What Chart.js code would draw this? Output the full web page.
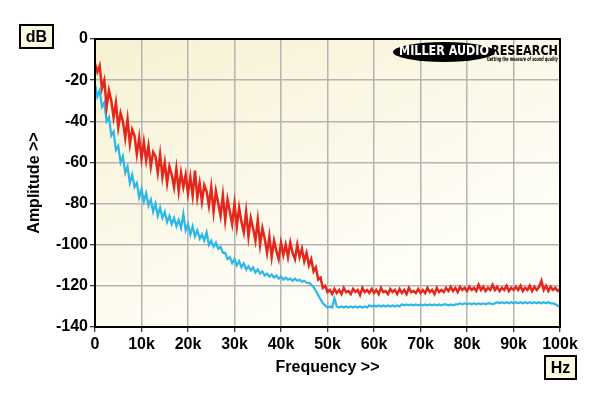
<!doctype html>
<html>

<head>
    <title>Amplitude vs Frequency</title>
    <script src="https://cdn.jsdelivr.net/npm/chart.js"></script>
    <style>
        body { margin: 0; background: #ffffff; }
    </style>
</head>

<body>

    <canvas id="spectrum" width="600" height="396"></canvas>

    <script>
        // sampling grid of the trace, Hz
        var freqStep = 500;

        // tick labels
        var xTicks = [0, 10000, 20000, 30000, 40000, 50000, 60000, 70000, 80000, 90000, 100000];
        var yTicks = [0, -20, -40, -60, -80, -100, -120, -140];

        // red trace, dB, one value every 0.5kHz from 0 to 100kHz
        var redTrace = [
            -12, -16, -13, -24, -20, -33, -25, -30, -38, -31, -43, -36, -40, -48, -39, -51, -44, -47, -56, -48, -58,
            -50, -59, -52, -62, -55, -57, -65, -56, -67, -60, -70, -62, -66, -72, -63, -74, -65, -72, -66, -75,
            -67, -76, -64, -77, -70, -79, -71, -74, -81, -72, -84, -74, -80, -86, -76, -88, -78, -84, -90, -80,
            -91, -82, -89, -94, -84, -96, -87, -92, -98, -88, -100, -92, -97, -104, -96, -106, -98, -103, -107, -99,
            -105, -100, -106, -99, -104, -107, -100, -106, -102, -108, -104, -110, -107, -113, -111, -117, -116, -121, -120, -123,
            -122, -124, -121.5, -123.5, -122, -124, -121, -123, -122.5, -124, -121.5, -123, -122, -124.5, -121, -123, -122, -123.5, -121.5, -123.5,
            -122, -124, -121, -123, -122.5, -124, -121.5, -123, -122, -124, -121.5, -123.5, -122, -124, -121, -123, -122.5, -123.5, -121.5, -123.5,
            -122, -123.5, -121, -123, -122, -124, -121, -123, -122, -123, -121, -122.5, -120.5, -122.5, -121, -123, -120.5, -122, -121, -122.5,
            -120.5, -122, -121, -122.5, -119.5, -122, -120.5, -122.5, -121, -122, -119.5, -122, -120.5, -122.5, -121, -122, -120, -122.5, -121, -122,
            -120.5, -122, -120, -122.5, -121, -122, -120, -122.5, -120.5, -122, -120.5, -117.5, -122, -120, -122.5, -120.5, -122, -121, -122.5, -121.5
        ];

        // blue trace, dB, same grid
        var blueTrace = [
            -22, -28, -25, -33, -31, -40, -38, -47, -45, -54, -52, -60, -57, -65, -62, -70, -66, -72, -70, -77, -73,
            -79, -75, -81, -78, -84, -80, -86, -82, -87, -84, -89, -86, -90, -87, -91, -88, -92, -85, -93, -90,
            -95, -91, -96, -93, -97, -95, -98, -94, -100, -98, -101, -99, -102, -101, -104, -104, -107, -106, -109, -107,
            -110, -108, -111, -109, -112, -110.5, -112.5, -111, -113.5, -112, -114, -113, -115, -114, -115.5, -114.5, -116, -115, -116.5, -115.5,
            -117, -116, -117, -116.5, -117.5, -116.5, -117.5, -117, -118, -117.5, -118.5, -118.5, -119.5, -120.5, -122.5, -124.5, -126.5, -128.5, -129.5, -130.5,
            -130, -130.5, -126, -130, -130.5, -130, -130.5, -130, -130.5, -130, -130.5, -130, -130.5, -130, -130.5, -130, -130.5, -129.5, -130, -129.5,
            -130, -129.5, -130, -129.5, -130, -129.5, -130, -129.5, -130, -129.5, -130, -129, -129.5, -129, -129.5, -129, -129.5, -129, -129.5, -129,
            -129.5, -129, -129.5, -129, -129.5, -129, -129.5, -129, -129.5, -129, -129, -129.5, -129, -129.5, -129, -129, -128.5, -129, -128.5, -129,
            -128.5, -129, -128.5, -129, -128.5, -129, -128.5, -129, -128.5, -128.5, -129, -128.5, -128, -128.5, -128, -128.5, -128, -128.5, -128, -128.5,
            -128, -128.5, -128, -128.5, -128, -128.5, -128, -128.5, -128, -128.5, -128, -128.5, -128, -128.5, -128, -128.5, -128.5, -129, -129.5, -130.5
        ];

        function asPoints(trace) {
            return trace.map(function (v, i) { return { x: i * freqStep, y: v }; });
        }

        var fonte = 'bold 16px "Liberation Sans", Arial, sans-serif';

        var fundo = {
            id: 'fundo',
            beforeDraw: function (chart) {
                var ctx = chart.ctx, a = chart.chartArea;
                ctx.save();
                ctx.fillStyle = '#ffffff';
                ctx.fillRect(0, 0, chart.width, chart.height);
                var g = ctx.createLinearGradient(a.left, a.top, a.left + 120, a.bottom);
                g.addColorStop(0, '#f7f1d2');
                g.addColorStop(1, '#fefdf6');
                ctx.fillStyle = g;
                ctx.fillRect(a.left, a.top, a.right - a.left, a.bottom - a.top);
                ctx.restore();
            }
        };

        function caixa(ctx, x, y, w, h, texto) {
            ctx.fillStyle = '#fbf8e2';
            ctx.fillRect(x, y, w, h);
            ctx.strokeStyle = '#000';
            ctx.lineWidth = 2;
            ctx.strokeRect(x, y, w, h);
            ctx.fillStyle = '#000';
            ctx.font = fonte;
            ctx.textAlign = 'center';
            ctx.textBaseline = 'middle';
            ctx.fillText(texto, x + w / 2, y + h / 2 + 1);
        }

        var moldura = {
            id: 'moldura',
            afterDatasetsDraw: function (chart) {
                var ctx = chart.ctx, a = chart.chartArea;
                ctx.save();
                ctx.strokeStyle = '#000';
                ctx.lineWidth = 2;
                ctx.strokeRect(a.left, a.top, a.right - a.left, a.bottom - a.top);

                caixa(ctx, 20, 25, 33, 23, 'dB');
                caixa(ctx, 545, 356, 31, 23, 'Hz');

                // logo
                ctx.fillStyle = '#000';
                ctx.beginPath();
                ctx.ellipse(444, 52, 51, 10, 0, 0, 2 * Math.PI);
                ctx.fill();
                ctx.textAlign = 'left';
                ctx.textBaseline = 'middle';
                ctx.font = 'bold 14px "DejaVu Sans Condensed", "DejaVu Sans", sans-serif';
                ctx.fillStyle = '#fff';
                ctx.fillText('MILLER AUDIO', 399, 51.5, 90);
                ctx.fillStyle = '#000';
                ctx.fillText('RESEARCH', 491, 51.5, 67);
                ctx.font = 'italic bold 6px "DejaVu Sans Condensed", "DejaVu Sans", sans-serif';
                ctx.fillText('Getting the measure of sound quality', 487, 59.5, 71);
                ctx.restore();
            }
        };

        var espectro = new Chart(document.getElementById('spectrum').getContext('2d'), {
            type: 'line',
            data: {
                datasets: [{
                    label: 'red',
                    borderColor: '#e5261b',
                    backgroundColor: '#e5261b',
                    borderWidth: 2.5,
                    pointRadius: 0,
                    data: asPoints(redTrace)
                }, {
                    label: 'blue',
                    borderColor: '#2bb7e9',
                    backgroundColor: '#2bb7e9',
                    borderWidth: 2.2,
                    pointRadius: 0,
                    data: asPoints(blueTrace)
                }]
            },
            options: {
                responsive: false,
                animation: false,
                devicePixelRatio: 1,
                layout: { padding: { top: 39, right: 40, bottom: 0, left: 0 } },
                plugins: { legend: { display: false }, tooltip: { enabled: false } },
                scales: {
                    x: {
                        type: 'linear',
                        min: 0,
                        max: 100000,
                        afterFit: function (s) { s.height = 69; },
                        afterBuildTicks: function (s) { s.ticks = xTicks.map(function (v) { return { value: v }; }); },
                        ticks: {
                            color: '#000',
                            font: { family: '"Liberation Sans", Arial, sans-serif', size: 16, weight: 'bold' },
                            padding: 3,
                            maxRotation: 0,
                            callback: function (v) { return v === 0 ? '0' : (v / 1000) + 'k'; }
                        },
                        grid: { color: '#b4b4b4', lineWidth: 1.5, tickColor: '#000', tickLength: 5, tickWidth: 1 },
                        border: { color: '#000', width: 2 },
                        title: {
                            display: true,
                            text: 'Frequency >>',
                            align: 'center',
                            color: '#000',
                            font: { family: '"Liberation Sans", Arial, sans-serif', size: 16, weight: 'bold' },
                            padding: { top: 0, bottom: 19 }
                        }
                    },
                    y: {
                        min: -140,
                        max: 0,
                        afterFit: function (s) { s.width = 95; },
                        afterBuildTicks: function (s) { s.ticks = yTicks.map(function (v) { return { value: v }; }); },
                        ticks: {
                            color: '#000',
                            font: { family: '"Liberation Sans", Arial, sans-serif', size: 16, weight: 'bold' },
                            padding: 2
                        },
                        grid: { color: '#b4b4b4', lineWidth: 1.5, tickColor: '#000', tickLength: 5, tickWidth: 1 },
                        border: { color: '#000', width: 2 },
                        title: {
                            display: true,
                            text: 'Amplitude >>',
                            color: '#000',
                            font: { family: '"Liberation Sans", Arial, sans-serif', size: 16, weight: 'bold' },
                            padding: { top: 25, bottom: 0 }
                        }
                    }
                }
            },
            plugins: [fundo, moldura]
        });
    </script>
</body>

</html>
